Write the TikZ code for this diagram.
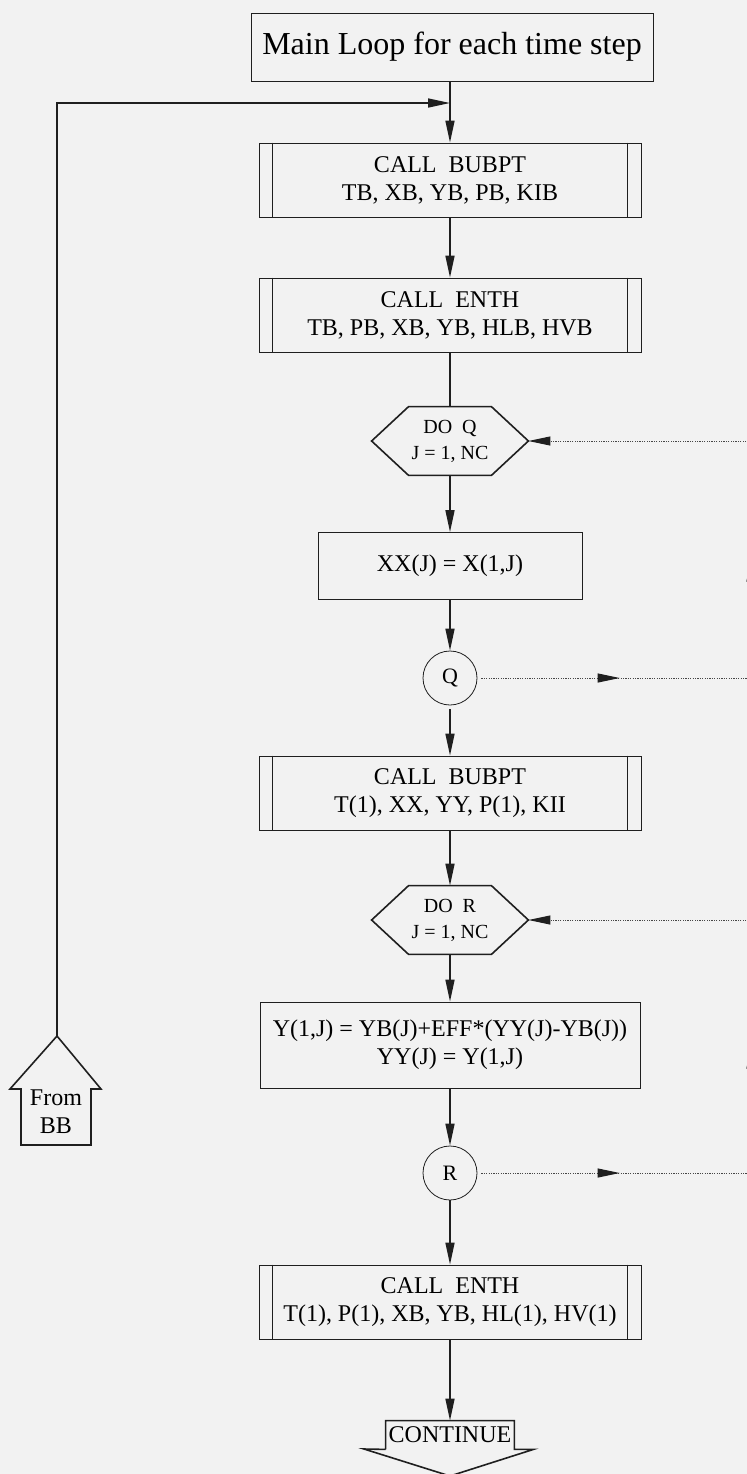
\documentclass[tikz,border=0pt]{standalone}
\usepackage{fontspec}
\setmainfont{Liberation Serif}
\usepackage{tikz}
\usetikzlibrary{positioning,arrows.meta,calc,decorations.markings}
\definecolor{paper}{gray}{0.95}
\definecolor{ink}{gray}{0.12}
\tikzset{
  titlebox/.style ={draw=ink, rectangle, align=center, minimum width=201pt, minimum height=34pt, inner sep=1pt, font=\fontsize{16}{19}\selectfont},
  subr/.style     ={draw=ink, rectangle, align=center, minimum width=191pt, minimum height=37pt, inner sep=1pt, font=\fontsize{12}{14}\selectfont},
  stepbox/.style  ={draw=ink, rectangle, align=center, minimum width=132pt, minimum height=33.5pt, inner sep=1pt, font=\fontsize{12}{14}\selectfont},
  dobox/.style    ={rectangle, align=center, minimum width=78pt, minimum height=34pt, inner sep=0pt, font=\fontsize{10}{13}\selectfont},
  conn/.style     ={draw=ink, circle, minimum size=27pt, inner sep=0pt, font=\fontsize{11}{12}\selectfont},
  lbl/.style      ={align=center, inner sep=0pt, font=\fontsize{12}{14}\selectfont},
  outline/.style  ={draw=ink, line width=0.8pt},
  line/.style     ={draw=ink, line width=0.8pt},
  arr/.style      ={draw=ink, line width=0.8pt, -{Triangle[length=11pt,width=4.5pt]}},
  dotline/.style  ={draw=gray!55!black, line width=0.5pt, dash pattern=on 0.6pt off 0.6pt},
  dotarr/.style   ={dotline, -{Triangle[length=11pt,width=4.5pt,color=ink]}},
  midarrow/.style ={postaction={decorate}, decoration={markings, mark=at position #1 with {\arrow{Triangle[length=11pt,width=4.5pt,color=ink]}}}},
}
% inner bars of a subroutine box
\newcommand{\subrbars}[1]{\draw[outline] ([xshift=7pt]#1.north west) -- ([xshift=7pt]#1.south west) ([xshift=-7pt]#1.north east) -- ([xshift=-7pt]#1.south east);}
% hexagon round a DO node
\newcommand{\hexa}[1]{\draw[outline] ([xshift=18.5pt]#1.north west) -- ([xshift=-18.5pt]#1.north east) -- (#1.east) -- ([xshift=-18.5pt]#1.south east) -- ([xshift=18.5pt]#1.south west) -- (#1.west) -- cycle;}

\begin{document}
\begin{tikzpicture}[x=0.5pt, y=-0.5pt]
  \fill[paper] (0,0) rectangle (747,1474);
  \useasboundingbox (0,0) rectangle (747,1474);

  % main column
  \node[titlebox] (title) at (452,47) {Main Loop for each time step};
  \coordinate (junc) at (450,103);
  \node[subr] (bub1) at (450,180) {CALL~~BUBPT\\TB, XB, YB, PB, KIB};
  \node[subr] (enth1) at (450,315) {CALL~~ENTH\\TB, PB, XB, YB, HLB, HVB};
  \node[dobox] (doq) at (450,441) {DO~~Q\\J = 1, NC};
  \node[stepbox] (xx) at (450,566) {XX(J) = X(1,J)};
  \node[conn] (q) at (450,678) {Q};
  \node[subr] (bub2) at (450,793) {CALL~~BUBPT\\T(1), XX, YY, P(1), KII};
  \node[dobox] (dor) at (450,920) {DO~~R\\J = 1, NC};
  \node[stepbox, minimum width=190pt, minimum height=43pt] (ycalc) at (450,1045) {Y(1,J) = YB(J)+EFF*(YY(J)-YB(J))\\YY(J) = Y(1,J)};
  \node[conn] (r) at (450,1173) {R};
  \node[subr] (enth2) at (450,1302) {CALL~~ENTH\\T(1), P(1), XB, YB, HL(1), HV(1)};
  \node[lbl, minimum width=64pt, minimum height=14pt] (cont) at (450,1435) {CONTINUE};

  \subrbars{bub1}
  \subrbars{enth1}
  \subrbars{bub2}
  \subrbars{enth2}
  \hexa{doq}
  \hexa{dor}
  \draw[outline] (cont.south west) -- (cont.north west) -- (cont.north east) -- (cont.south east)
    -- ++(19,0) -- (450,1476) -- (364,1449) -- (cont.south west);

  % from BB
  \node[lbl] (frombb) at (56,1112) {From\\BB};
  \coordinate (bbtip) at (57,1036);
  \draw[outline] (bbtip) -- (101,1089) -- (91,1089) -- (91,1145) -- (21,1145) -- (21,1089) -- (10,1089) -- cycle;

  % flow
  \draw[line] (junc |- title.south) -- (junc);
  \draw[arr] (bbtip) |- (junc);
  \draw[arr] (junc) -- (bub1);
  \draw[arr] (bub1) -- (enth1);
  \draw[line] (enth1) -- (doq);
  \draw[arr] (doq) -- (xx);
  \draw[arr] (xx) -- (q);
  \draw[arr, shorten <=2pt] (q) -- (bub2);
  \draw[arr] (bub2) -- (dor);
  \draw[arr] (dor) -- (ycalc);
  \draw[arr] (ycalc) -- (r);
  \draw[arr] (r) -- (enth2);
  \draw[arr] (enth2) -- (cont);

  % loop returns
  \coordinate (qout) at (751,678);
  \coordinate (qup) at (751,441);
  \coordinate (rout) at (751,1173);
  \coordinate (rup) at (751,920);
  \draw[dotline, midarrow=0.52, shorten <=2pt] (q) -- (qout);
  \draw[dotline, midarrow=0.5] (qout) -- (qup);
  \draw[dotarr] (qup) -- (doq.east);
  \draw[dotline, midarrow=0.52, shorten <=2pt] (r) -- (rout);
  \draw[dotline, midarrow=0.5] (rout) -- (rup);
  \draw[dotarr] (rup) -- (dor.east);
\end{tikzpicture}
\end{document}
